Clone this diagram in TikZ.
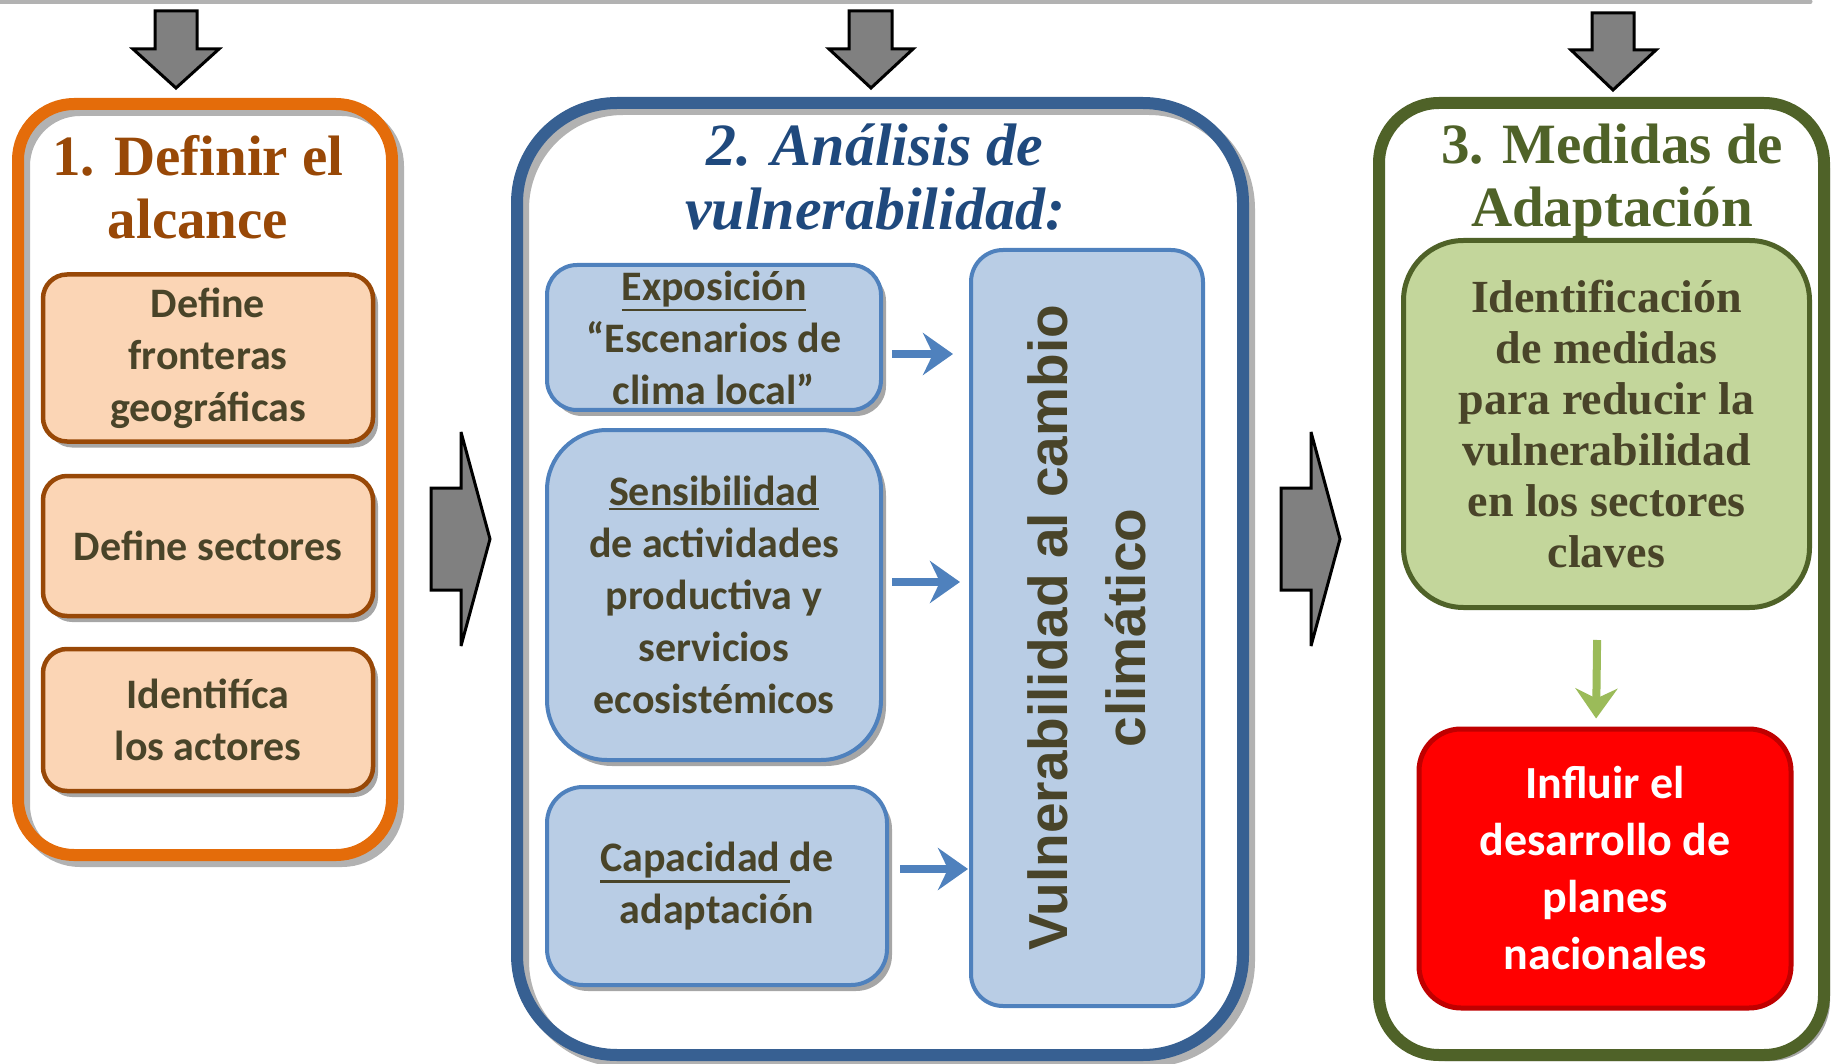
\documentclass[tikz,border=0pt]{standalone}
\usepackage{fontspec}
\setmainfont{Carlito}
\newfontfamily\camb{Liberation Serif}
\newfontfamily\arl{Liberation Sans}
\usetikzlibrary{arrows.meta,shadows}

\definecolor{cOr}{RGB}{228,108,10}
\definecolor{cBr}{RGB}{152,72,7}
\definecolor{cOrL}{RGB}{251,213,181}
\definecolor{cTx}{RGB}{73,68,41}
\definecolor{cBl}{RGB}{55,96,146}
\definecolor{cBlT}{RGB}{31,73,125}
\definecolor{cBlL}{RGB}{185,205,229}
\definecolor{cBlM}{RGB}{79,129,189}
\definecolor{cGr}{RGB}{79,98,40}
\definecolor{cGrL}{RGB}{195,214,155}
\definecolor{cGrA}{RGB}{155,187,89}
\definecolor{cRd}{RGB}{192,0,0}

\newcommand{\undl}[1]{\vtop{\hbox{#1}\kern2pt\hrule height 2.5pt}}

\tikzstyle{fS}=[rectangle,draw,line width=12pt,inner sep=0pt,preaction={draw=gray!60,transform canvas={shift={(6pt,-6pt)}}}]
\tikzstyle{tS}=[inner sep=0pt,align=center,font=\camb\bfseries\fontsize{57}{63}\selectfont]
\tikzstyle{sS}=[rectangle,draw,line width=4.5pt,inner sep=0pt,align=center,text=cTx,font=\bfseries\fontsize{42}{52}\selectfont,drop shadow={shadow xshift=5pt,shadow yshift=-6pt,fill=gray!70,opacity=1}]
\tikzstyle{oS}=[sS,draw=cBr,fill=cOrL,minimum width=330pt,rounded corners=24pt]
\tikzstyle{bS}=[sS,draw=cBlM,fill=cBlL,line width=4pt]
\tikzstyle{aS}=[fill=gray,draw=black,line width=3pt,line join=miter,miter limit=3]
\tikzstyle{eS}=[line width=8pt,-{Stealth[length=30pt,width=42pt,inset=10pt]}]

\begin{document}
\begin{tikzpicture}[x=1pt,y=-1pt]%[1 px = 1 pt]
\useasboundingbox (0,0) rectangle (1834,1064);
\draw[gray!60,line width=5pt,line cap=round] (-5,2) -- (1810,2);

% flechas grises
\draw[aS] (155,11) -- (197,11) -- (197,49) -- (219,49) -- (176,88) -- (133,49) -- (155,49) -- cycle;
\draw[aS] (849,11) -- (892,11) -- (892,49) -- (913,49) -- (871,88) -- (829,49) -- (849,49) -- cycle;
\draw[aS] (1592,13) -- (1634,13) -- (1634,50) -- (1656,50) -- (1613,90) -- (1571,50) -- (1592,50) -- cycle;
\draw[aS] (431,488) -- (461,488) -- (461,432) -- (490,539) -- (461,646) -- (461,590) -- (431,590) -- cycle;
\draw[aS] (1281,488) -- (1311,488) -- (1311,432) -- (1340,539) -- (1311,646) -- (1311,590) -- (1281,590) -- cycle;

% 1
\draw (205,479.5) node[fS,draw=cOr,minimum width=374pt,minimum height=751pt,rounded corners=56pt] (fase1) {};
\draw (198,187) node[tS,text=cBr] (tit1) {1. Definir el\\alcance};
\draw (208,358) node[oS,minimum height=167pt] (front) {Define\\fronteras\\geográficas};
\draw (208,546) node[oS,minimum height=140pt] (sect) {Define sectores};
\draw (208,720) node[oS,minimum height=142pt] (act) {Identifíca\\los actores};

% 2
\draw (880,579) node[fS,draw=cBl,minimum width=726pt,minimum height=952pt,rounded corners=100pt] (fase2) {};
\draw (875,177) node[tS,text=cBlT,font=\camb\bfseries\itshape\fontsize{60}{64}\selectfont] (tit2) {2. Análisis de\\vulnerabilidad:};
\draw (714,337.5) node[bS,minimum width=334pt,minimum height=145pt,rounded corners=30pt] (expo) {\undl{Exposición}\\“Escenarios de\\clima local”};
\draw (714,595) node[bS,minimum width=334pt,minimum height=330pt,rounded corners=60pt] (sens) {\undl{Sensibilidad}\\de actividades\\productiva y\\servicios\\ecosistémicos};
\draw (717,886) node[bS,minimum width=340pt,minimum height=198pt,rounded corners=36pt] (capa) {\undl{Capacidad\ }de\\adaptación};
\draw (1087,628) node[rectangle,draw=cBlM,fill=cBlL,line width=4pt,inner sep=0pt,rotate=90,minimum width=756pt,minimum height=232pt,rounded corners=32pt,align=center,text=cTx,font=\arl\bfseries\fontsize{55}{78}\selectfont] (vul) {Vulnerabilidad al cambio\\climático};
\path
    (expo.east |- 0,354) edge[eS,cBlM,shorten <=9pt,shorten >=16pt] (vul.north |- 0,354)
    (sens.east |- 0,582) edge[eS,cBlM,shorten <=9pt,shorten >=9pt] (vul.north |- 0,582)
    (capa.east |- 0,869) edge[eS,cBlM,shorten <=11pt,shorten >=1pt] (vul.north |- 0,869)
;

% 3
\draw (1601.5,579) node[rectangle,draw=cGr,fill=white,line width=12pt,inner sep=0pt,minimum width=445pt,minimum height=952pt,rounded corners=60pt,drop shadow={shadow xshift=6pt,shadow yshift=-6pt,fill=gray!70,opacity=1}] (fase3) {};
\draw (1612,181) node[tS,text=cGr] (tit3) {3. Medidas de\\Adaptación};
\draw (1606.5,424) node[rectangle,draw=cGr,fill=cGrL,line width=5pt,inner sep=0pt,minimum width=406pt,minimum height=367pt,rounded corners=60pt,align=center,text=cTx,font=\camb\bfseries\fontsize{46}{51}\selectfont] (medi) {Identificación\\de medidas\\para reducir la\\vulnerabilidad\\en los sectores\\claves};
\draw (1605,868.5) node[rectangle,draw=cRd,fill=red,line width=5pt,inner sep=0pt,minimum width=372pt,minimum height=279pt,rounded corners=42pt,align=center,text=white,font=\bfseries\fontsize{46}{57}\selectfont] (infl) {Influir el\\desarrollo de\\planes\\nacionales};
\path
    ([xshift=-9pt]medi.south) edge[eS,cGrA,shorten <=30pt,shorten >=8pt] ([xshift=-9pt]infl.north)
;
\end{tikzpicture}
\end{document}
